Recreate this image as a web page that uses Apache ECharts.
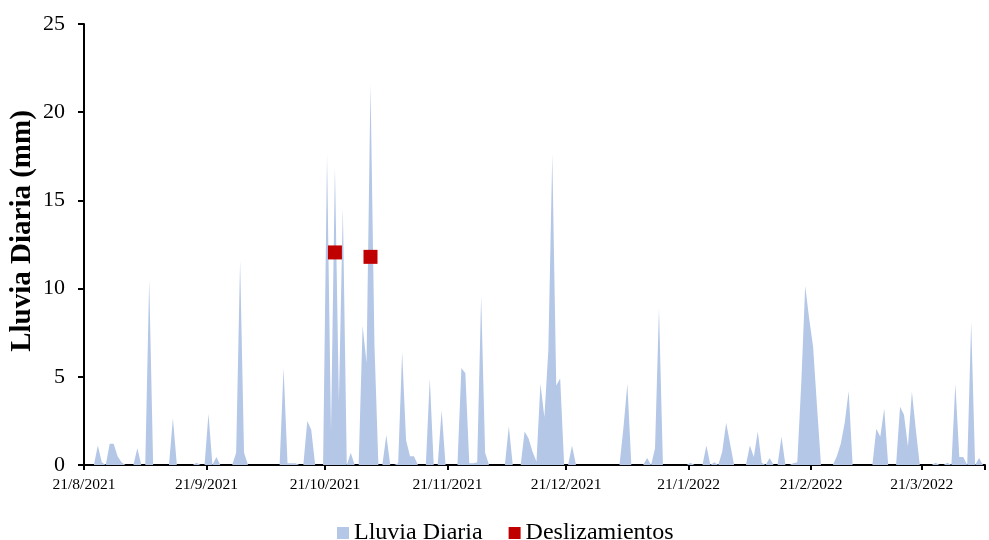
<!DOCTYPE html>
<html><head><meta charset="utf-8">
<script src="https://cdn.jsdelivr.net/npm/echarts@6/dist/echarts.min.js"></script>
<style>html,body{margin:0;padding:0;background:#fff}#c{width:989px;height:540px}</style>
</head><body><div id="c"></div>
<script>
// ---- data ----
const startYear = 2021, startMonth = 8, startDay = 21;   // first day: 21/8/2021
const dayCount = 228;
const tickLabels = ['21/8/2021','21/9/2021','21/10/2021','21/11/2021','21/12/2021','21/1/2022','21/2/2022','21/3/2022'];
const rainfall = [
  0,0,0,1.1,0.15,0,1.2,1.2,0.5,0.15,            // 0-9
  0,0,0,0.95,0,0,10.5,0,0,0,                    // 10-19
  0,0,2.65,0,0,0,0,0,0.13,0,                    // 20-29
  0,2.9,0,0.45,0,0,0,0,0.7,11.6,                // 30-39
  0.7,0,0,0,0,0,0,0,0,0,                        // 40-49
  5.5,0.1,0.1,0.1,0,0,2.5,2.0,0,0,              // 50-59
  0,17.6,1.9,16.9,3.6,14.6,0,0.7,0,0,           // 60-69
  7.9,5.8,21.6,6.8,0,0,1.7,0,0,0.1,             // 70-79
  6.4,1.4,0.5,0.5,0,0,0,4.9,0,0,                // 80-89
  3.1,0,0,0,0,5.5,5.2,0.1,0.1,0.15,             // 90-99
  9.6,0.7,0,0,0,0,0,2.2,0,0,                    // 100-109
  0,1.9,1.5,0.75,0.2,4.6,2.7,6.5,17.6,4.5,      // 110-119
  4.9,0,0,1.1,0,0,0,0,0,0,                      // 120-129
  0,0,0,0,0,0,2.1,4.6,0,0,                      // 130-139
  0,0,0.4,0,0.95,8.9,0,0,0,0,                   // 140-149
  0,0,0,0.13,0,0,0,1.1,0,0.15,                  // 150-159
  0,0.75,2.4,1.2,0,0,0,0,1.1,0.45,              // 160-169
  1.9,0.13,0,0.4,0,0,1.6,0,0,0.1,               // 170-179
  0.15,4.6,10.15,8.3,6.7,3.3,0,0,0,0,           // 180-189
  0.5,1.2,2.4,4.2,0,0,0,0,0,0,                  // 190-199
  2.05,1.6,3.2,0,0,0,3.3,2.85,1.05,4.15,        // 200-209
  2.0,0,0,0,0,0.13,0,0,0.13,0,                  // 210-219
  4.6,0.45,0.45,0,8.1,0,0.4,0                   // 220-227
];
const landslideDates = ['23/10/2021','1/11/2021'];
const landslideValues = [12.05, 11.8];

// ---- build categories (one per day) ----
const categories = [];
for (let i = 0; i < dayCount; i++) {
  const dt = new Date(startYear, startMonth - 1, startDay + i);
  categories.push(dt.getDate() + '/' + (dt.getMonth() + 1) + '/' + dt.getFullYear());
}
const isTick = (idx, val) => tickLabels.indexOf(val) >= 0;

const FONT = '"Liberation Serif", "Times New Roman", serif';
const chart = echarts.init(document.getElementById('c'), null, {renderer: 'canvas'});
chart.setOption({
  animation: false,
  backgroundColor: '#fff',
  grid: {left: 84, right: 4, top: 24, bottom: 75, containLabel: false},
  legend: {
    left: 332, top: 516,
    itemWidth: 12, itemHeight: 12, itemGap: 26,
    textStyle: {fontFamily: FONT, fontSize: 24, color: '#000'},
    data: [
      {name: 'Lluvia Diaria', icon: 'rect'},
      {name: 'Deslizamientos', icon: 'rect'}
    ]
  },
  xAxis: {
    type: 'category',
    data: categories,
    boundaryGap: true,
    axisLine: {show: true, lineStyle: {color: '#000', width: 2}},
    axisTick: {show: true, interval: isTick, length: 5, lineStyle: {color: '#000', width: 2}},
    axisLabel: {interval: isTick, margin: 12, fontFamily: FONT, fontSize: 15.5, color: '#000', padding: [0, 4, 0, 0]},
    splitLine: {show: false}
  },
  yAxis: {
    type: 'value', min: 0, max: 25, interval: 5,
    axisLine: {show: true, lineStyle: {color: '#000', width: 2}},
    axisTick: {show: true, length: 6, lineStyle: {color: '#000', width: 2}},
    axisLabel: {margin: 19, fontFamily: FONT, fontSize: 22, color: '#000'},
    splitLine: {show: false}
  },
  graphic: [{
    type: 'text', x: 23, y: 231, rotation: Math.PI / 2,
    style: {text: 'Lluvia Diaria (mm)', font: 'bold 29px ' + FONT, fill: '#000',
            textAlign: 'center', textVerticalAlign: 'middle', align: 'center', verticalAlign: 'middle'}
  }],
  series: [
    {
      name: 'Lluvia Diaria', type: 'line', data: rainfall,
      symbol: 'none', smooth: false,
      itemStyle: {color: '#B4C7E7'},
      lineStyle: {width: 0, color: '#B4C7E7'},
      areaStyle: {color: '#B4C7E7', opacity: 1},
      z: 2
    },
    {
      name: 'Deslizamientos', type: 'scatter',
      data: landslideDates.map((d, i) => [d, landslideValues[i]]),
      symbol: 'rect', symbolSize: 14,
      itemStyle: {color: '#C00000', opacity: 1},
      z: 5
    }
  ]
});
</script></body></html>
